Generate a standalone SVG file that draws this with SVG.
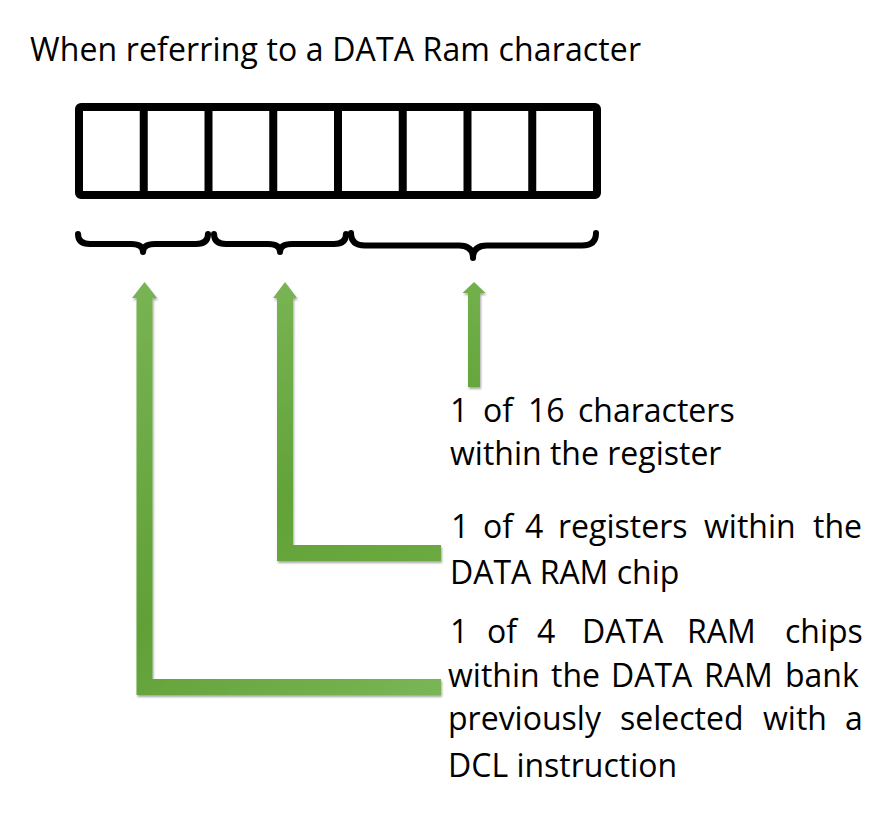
<svg xmlns="http://www.w3.org/2000/svg" width="887" height="816" viewBox="0 0 887 816">
<defs>
  <filter id="sh" x="-10%" y="-10%" width="130%" height="130%">
    <feDropShadow dx="1" dy="2" stdDeviation="1.2" flood-color="#000" flood-opacity="0.35"/>
  </filter>
  <linearGradient id="g1" gradientUnits="userSpaceOnUse" x1="144" y1="282" x2="441" y2="695">
    <stop offset="0" stop-color="#78b453"/>
    <stop offset="0.55" stop-color="#60a036"/>
    <stop offset="1" stop-color="#7ab656"/>
  </linearGradient>
  <linearGradient id="g2" gradientUnits="userSpaceOnUse" x1="285" y1="282" x2="441" y2="561">
    <stop offset="0" stop-color="#78b453"/>
    <stop offset="0.6" stop-color="#62a238"/>
    <stop offset="1" stop-color="#6aaa40"/>
  </linearGradient>
  <linearGradient id="g3" x1="0" y1="0" x2="0" y2="1">
    <stop offset="0" stop-color="#72b04c"/>
    <stop offset="1" stop-color="#66a63c"/>
  </linearGradient>
</defs>
<style>
  .t{font-family:"Open Sans","Liberation Sans",sans-serif;fill:#000}
  .title{font-size:32px}
  .body{font-size:32px}
  .box{fill:#fff;stroke:#000;stroke-width:8;stroke-linejoin:round}
  .div{stroke:#000;stroke-width:8}
  .brace{fill:none;stroke:#000;stroke-width:6;stroke-linecap:round;stroke-linejoin:round}
  .arrow{filter:url(#sh)}
</style>
<rect width="887" height="816" fill="#fff"/>

<g id="title">
  <text class="t title" x="30" y="61" textLength="611" lengthAdjust="spacing">When referring to a DATA Ram character</text>
</g>

<g id="register-box">
  <rect class="box" x="79" y="107" width="518" height="88" rx="2"/>
  <line class="div" x1="143.75" y1="107" x2="143.75" y2="195"/>
  <line class="div" x1="208.5" y1="107" x2="208.5" y2="195"/>
  <line class="div" x1="273.25" y1="107" x2="273.25" y2="195"/>
  <line class="div" x1="338" y1="107" x2="338" y2="195"/>
  <line class="div" x1="402.75" y1="107" x2="402.75" y2="195"/>
  <line class="div" x1="467.5" y1="107" x2="467.5" y2="195"/>
  <line class="div" x1="532.25" y1="107" x2="532.25" y2="195"/>
</g>

<g id="braces">
  <path class="brace" d="M78,234 Q78,244 90,244 L131,244 Q143,244 143,252 Q143,244 155,244 L196,244 Q208,244 208,234"/>
  <path class="brace" d="M214,234 Q214,244 226,244 L268,244 Q280,244 280,252 Q280,244 292,244 L334,244 Q346,244 346,234"/>
  <path class="brace" d="M351,233 Q351,245.5 365,245.5 L459,245.5 Q473,245.5 473,258 Q473,245.5 487,245.5 L582,245.5 Q596,245.5 596,233"/>
</g>

<g id="connectors">
  <path id="arrow-chip" class="arrow" fill="url(#g1)" d="M144.5,282 L157,298 L152.5,298 L152.5,679 L441,679 L441,695 L136.5,695 L136.5,298 L132,298 Z"/>
  <path id="arrow-register" class="arrow" fill="url(#g2)" d="M285,282 L297,298 L293,298 L293,545 L441,545 L441,561 L277,561 L277,298 L273,298 Z"/>
  <path id="arrow-character" class="arrow" fill="url(#g3)" d="M474,282 L485.5,293 L480,293 L480,387 L468,387 L468,293 L462.5,293 Z"/>
</g>

<g id="label-character">
  <text class="t body" y="422"><tspan x="450">1</tspan><tspan x="483">of</tspan><tspan x="528">16</tspan><tspan x="578">characters</tspan></text>
  <text class="t body" x="450" y="465">within the register</text>
</g>

<g id="label-register">
  <text class="t body" y="538"><tspan x="451">1</tspan><tspan x="483">of</tspan><tspan x="525">4</tspan><tspan x="558">registers</tspan><tspan x="704">within</tspan><tspan x="813">the</tspan></text>
  <text class="t body" x="450" y="584">DATA RAM chip</text>
</g>

<g id="label-chip">
  <text class="t body" y="643"><tspan x="450">1</tspan><tspan x="487">of</tspan><tspan x="537">4</tspan><tspan x="582">DATA</tspan><tspan x="687">RAM</tspan><tspan x="785">chips</tspan></text>
  <text class="t body" y="687"><tspan x="448">within</tspan><tspan x="551">the</tspan><tspan x="611">DATA</tspan><tspan x="704">RAM</tspan><tspan x="785">bank</tspan></text>
  <text class="t body" y="730"><tspan x="448">previously</tspan><tspan x="620">selected</tspan><tspan x="763">with</tspan><tspan x="845">a</tspan></text>
  <text class="t body" x="448" y="777">DCL instruction</text>
</g>
</svg>
